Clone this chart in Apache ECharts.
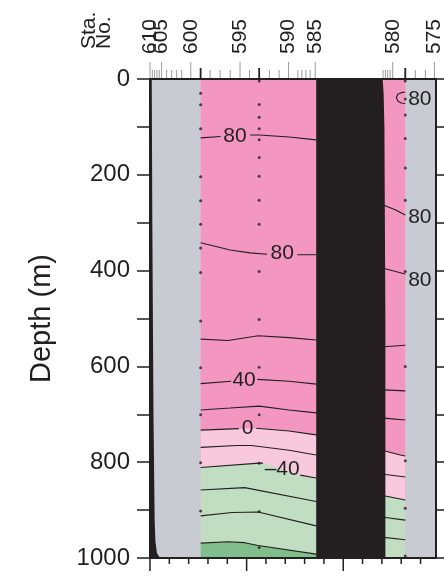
<!DOCTYPE html>
<html>
<head>
<meta charset="utf-8">
<script src="https://cdn.jsdelivr.net/npm/echarts@6.0.0/dist/echarts.min.js"></script>
<style>
html,body{margin:0;padding:0;background:#ffffff;}
#chart{width:444px;height:578px;}
</style>
</head>
<body>
<div id="chart"></div>
<script>
// ---------------- data ----------------
// station numbers and their along-section distance (km)
const stationNos = [610,609,608,607,606,605,604,603,602,601,600,599,598,597,596,595,594,593,592,591,590,589,588,587,586,585,584,583,582,581,580,579,578,577,575];
const stationKm  = [0,1.2,2.4,3.6,4.8,6.0,8.6,11.2,13.8,16.4,21.1,26.2,31.1,36.3,41.5,46.6,51.5,56.5,61.8,66.8,71.7,76.5,78.6,80.7,82.9,85.5,120.6,121.8,123.0,124.3,125.6,132.1,137.3,142.5,147.2];
const castStations = [599, 593, 579];
// bottom distance ticks (km)
const distTicks = [0,10,20,30,40,50,60,70,80,90,100,110,120,130,140];

// bottle depths (m) at the cast stations
const cast599 = [30,54,104,204,254,303,353,404,505,603,701,801,902];
const cast593 = [4,53,80,104,127,164,203,253,303,402,502,602,701,802,903,978];
const cast579 = [4,42,75,124,186,253,402,600,797,896,996];

// section domains (km) and topography [km, depth]
const westBlock = [26.2, 86.0];
const eastBlock = [120.0, 132.1];
const ridge = [[86.0,0],[120.4,0],[120.9,30],[121.3,100],[121.8,500],[121.8,1000],[86.0,1000]];
const westWall = [[0,0],[0.9,0],[1.2,300],[1.8,700],[2.4,920],[2.8,965],[3.6,990],[5.2,1000],[0,1000]];

// contour lines [km, depth]; null = gap where a label sits
const w80a  = [[26.2,123],[36.5,120],null,[51.8,117],[56.5,117],[72,121],[86,127]];
const w80b  = [[26.2,342],[41.5,357],[51.8,363],[60.6,366],null,[76.2,367],[86,367]];
const w60   = [[26.2,543],[40.4,546],[56,536],[72,540],[86,545]];
const w40   = [[26.2,636],[42,631],null,[55.5,627],[72,631],[86,637]];
const w20   = [[26.2,691],[41.5,687],[56.5,683],[72,691],[86,697]];
const w0    = [[26.2,733],[46,730],null,[55,729],[72,735],[86,743]];
const wm20  = [[26.2,769],[45,765],[52.5,765],[72,775],[86,785]];
const wm40  = [[26.2,811],[56.5,802],[58.5,802],null,[77.7,827],[86,833]];
const wm60  = [[26.2,858],[49,853],[86,882]];
const wm80  = [[26.2,912],[42.5,905],[56,904],[86,933]];
const wm100 = [[26.2,969],[40.5,966],[49,968],[56,974],[86,992]];

const e80a  = [[120.7,263],[126.9,273],[132.1,284]];
const e80b  = [[120.7,395],[132.1,407]];
const e80c  = [[132.1,27],[130,28.5],[128.2,32],[127.5,39],[128.2,46],[130,50],[132.1,51]];
const e60   = [[121,559],[132.1,556]];
const e40   = [[121,649],[132.1,651]];
const e20   = [[121,708],[132.1,712]];
const e0    = [[121,776],[129.5,785],[132.1,787]];
const em20  = [[121,825],[132.1,831]];
const em40  = [[121,870],[132.1,879]];
const em60  = [[121,915],[132.1,921]];
const em80  = [[121,957],[132.1,962]];

// contour labels [km, depth, text]
const westLabels = [[44,119,'80'],[68.4,364,'80'],[48.7,628,'40'],[50.5,728,'0'],[68.4,814,'\u201340']];
const eastLabels = [[133.6,42,'80'],[133.6,288,'80'],[133.6,420,'80']];

// ---------------- styling ----------------
const FONT = '"Liberation Sans", Arial, Helvetica, sans-serif';
const INK = '#231F20';
const GRAY = '#C9CBD2';
const PINK = '#F397C0';
const LPINK = '#F8C9DD';
const LGREEN = '#C1DDC2';
const DGREEN = '#80BE8B';
const DEPTH_MAX = 1000;

function solid(line){ return line.filter(p => p !== null); }
function segments(line){
  const out = []; let cur = [];
  line.forEach(p => { if (p === null) { if (cur.length) out.push(cur); cur = []; } else cur.push(p); });
  if (cur.length) out.push(cur);
  return out;
}
function rect(b){ return [[b[0],0],[b[1],0],[b[1],DEPTH_MAX],[b[0],DEPTH_MAX]]; }
function below(line){
  const s = solid(line);
  return s.concat([[s[s.length-1][0], DEPTH_MAX],[s[0][0], DEPTH_MAX]]);
}

const polys = [
  {c: PINK, p: rect(westBlock)},
  {c: PINK, p: rect(eastBlock)},
  {c: LPINK, p: below(w0)},
  {c: LGREEN, p: below(wm40)},
  {c: DGREEN, p: below(wm100)},
  {c: LPINK, p: below(e0)},
  {c: LGREEN, p: below(em40)},
  {c: INK, p: ridge},
  {c: INK, p: westWall}
];

const contours = [w80a,w80b,w60,w40,w20,w0,wm20,wm40,wm60,wm80,wm100,
                  e80a,e80b,e80c,e60,e40,e20,e0,em20,em40,em60,em80];

const series = [];
series.push({
  type: 'custom', name: 'fills', xAxisIndex: 0, yAxisIndex: 0, z: 1, silent: true, clip: true,
  data: polys.map(o => o.p[0]),
  renderItem: function(params, api){
    const o = polys[params.dataIndex];
    return {type: 'polygon', shape: {points: o.p.map(pt => api.coord(pt))}, style: {fill: o.c}};
  }
});
contours.forEach(line => {
  segments(line).forEach(seg => {
    series.push({
      type: 'line', xAxisIndex: 0, yAxisIndex: 0, z: 3, silent: true,
      data: seg, showSymbol: false, symbol: 'none', smooth: false,
      lineStyle: {color: INK, width: 1.1}
    });
  });
});
const castData = [];
cast599.forEach(d => castData.push([stationKm[stationNos.indexOf(599)], d]));
cast593.forEach(d => castData.push([stationKm[stationNos.indexOf(593)], d]));
cast579.forEach(d => castData.push([stationKm[stationNos.indexOf(579)], d]));
series.push({
  type: 'scatter', xAxisIndex: 0, yAxisIndex: 0, z: 4, silent: true,
  symbol: 'circle', symbolSize: 3, itemStyle: {color: INK}, data: castData
});
// contour labels
const labelData = westLabels.map(l => [l[0], l[1], l[2], 'center']).concat(eastLabels.map(l => [l[0], l[1], l[2], 'left']));
series.push({
  type: 'custom', xAxisIndex: 0, yAxisIndex: 0, z: 6, silent: true, clip: false,
  data: labelData.map(l => [l[0], l[1]]),
  renderItem: function(params, api){
    const l = labelData[params.dataIndex];
    const p = api.coord([l[0], l[1]]);
    return {type: 'text', x: p[0], y: p[1], style: {text: l[2], fill: INK, font: '21px ' + FONT, align: l[3], verticalAlign: 'middle'}};
  }
});
// station ticks and labels on the top edge
series.push({
  type: 'custom', xAxisIndex: 0, yAxisIndex: 0, z: 6, silent: true, clip: false,
  data: stationNos.map((s, i) => [stationKm[i], 0]),
  renderItem: function(params, api){
    const s = stationNos[params.dataIndex];
    const p = api.coord([stationKm[params.dataIndex], 0]);
    const major = s % 5 === 0;
    const cast = castStations.indexOf(s) >= 0;
    const len = major ? 17 : (cast ? 11 : 9);
    const children = [{
      type: 'line', shape: {x1: p[0], y1: p[1] - 1, x2: p[0], y2: p[1] - len},
      style: {stroke: cast ? INK : '#9C9C9C', lineWidth: cast ? 1.8 : 1}
    }];
    if (major) {
      children.push({type: 'text', x: p[0], y: p[1] - 25, rotation: Math.PI / 2,
        style: {text: String(s), fill: INK, font: '21px ' + FONT, align: 'left', verticalAlign: 'middle'}});
    }
    return {type: 'group', children: children};
  }
});
// bottom distance ticks
series.push({
  type: 'custom', xAxisIndex: 0, yAxisIndex: 0, z: 6, silent: true, clip: false,
  data: distTicks.map(v => [v, DEPTH_MAX]),
  renderItem: function(params, api){
    const v = distTicks[params.dataIndex];
    const p = api.coord([v, DEPTH_MAX]);
    const len = v % 50 === 0 ? 13 : 6;
    return {type: 'line', shape: {x1: p[0], y1: p[1] + 1, x2: p[0], y2: p[1] + len}, style: {stroke: INK, lineWidth: 1.5}};
  }
});

const axisLine = {show: true, onZero: false, lineStyle: {color: INK, width: 2}};
const option = {
  animation: false,
  backgroundColor: '#ffffff',
  grid: {left: 150, right: 8, top: 79, bottom: 20, show: true, backgroundColor: GRAY, borderWidth: 0},
  xAxis: [
    {type: 'value', position: 'bottom', min: 0, max: 148, interval: 50, z: 10,
     axisLine: axisLine, axisTick: {show: false}, axisLabel: {show: false}, splitLine: {show: false}},
    {type: 'value', position: 'top', min: 0, max: 148, interval: 50, z: 10,
     axisLine: axisLine, axisTick: {show: false}, axisLabel: {show: false}, splitLine: {show: false}}
  ],
  yAxis: [
    {type: 'value', position: 'left', inverse: true, min: 0, max: 1000, interval: 200, z: 10,
     axisLine: axisLine,
     axisTick: {show: true, inside: false, length: 13, lineStyle: {color: INK, width: 1.5}},
     minorTick: {show: true, splitNumber: 2, length: 13, lineStyle: {color: INK, width: 1.5}},
     axisLabel: {fontSize: 24, color: INK, fontFamily: FONT, margin: 20, formatter: v => String(v)},
     splitLine: {show: false}, minorSplitLine: {show: false},
     name: 'Depth (m)', nameLocation: 'middle', nameGap: 94,
     nameTextStyle: {fontSize: 29, color: INK, fontFamily: FONT}},
    {type: 'value', position: 'right', inverse: true, min: 0, max: 1000, interval: 100, z: 10,
     axisLine: axisLine,
     axisTick: {show: true, inside: false, length: 8, lineStyle: {color: INK, width: 1.5}},
     axisLabel: {show: false}, splitLine: {show: false}}
  ],
  graphic: [
    {type: 'text', x: 89, y: 49, rotation: Math.PI / 2,
     style: {text: 'Sta.', fill: INK, font: '21px ' + FONT, align: 'left', verticalAlign: 'middle'}},
    {type: 'text', x: 104, y: 49, rotation: Math.PI / 2,
     style: {text: 'No.', fill: INK, font: '21px ' + FONT, align: 'left', verticalAlign: 'middle'}}
  ],
  series: series
};
const chart = echarts.init(document.getElementById('chart'));
chart.setOption(option);
</script>
</body>
</html>
